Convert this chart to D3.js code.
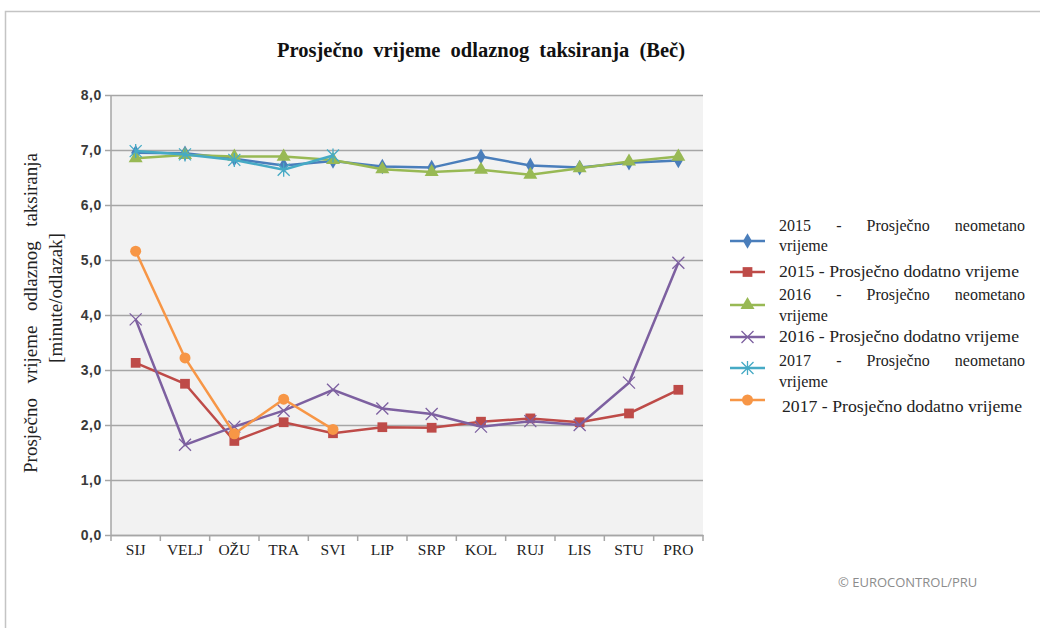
<!DOCTYPE html>
<meta charset="utf-8">
<script src="https://d3js.org/d3.v7.min.js"></script>
<style>
  body { margin: 0; background: #fff; }
  text { font-family: "Liberation Serif", "Times New Roman", serif; }
</style>
<svg id="chart" width="1040" height="628"></svg>
<script>
  // months and series
  var months = ["SIJ", "VELJ", "OŽU", "TRA", "SVI", "LIP", "SRP", "KOL", "RUJ", "LIS", "STU", "PRO"];
  var neo2015 = [6.95, 6.94, 6.84, 6.72, 6.80, 6.70, 6.68, 6.88, 6.72, 6.68, 6.77, 6.81];
  var dod2015 = [3.13, 2.75, 1.71, 2.05, 1.85, 1.96, 1.95, 2.06, 2.12, 2.05, 2.21, 2.64];
  var neo2016 = [6.85, 6.91, 6.88, 6.88, 6.82, 6.65, 6.60, 6.64, 6.55, 6.67, 6.79, 6.88];
  var dod2016 = [3.92, 1.64, 1.97, 2.26, 2.64, 2.30, 2.20, 1.97, 2.07, 2.00, 2.77, 4.95];
  var neo2017 = [6.98, 6.92, 6.82, 6.64, 6.90];
  var dod2017 = [5.16, 3.22, 1.84, 2.47, 1.92];
  var yTicks = [0, 1, 2, 3, 4, 5, 6, 7, 8];
  var seriesNames = [
    ["2015 - Prosječno neometano", "vrijeme"],
    ["2015  - Prosječno dodatno vrijeme"],
    ["2016 - Prosječno neometano", "vrijeme"],
    ["2016 - Prosječno dodatno vrijeme"],
    ["2017 - Prosječno neometano", "vrijeme"],
    ["2017 - Prosječno dodatno vrijeme"]
  ];

  var series = [
    { values: neo2015, color: "#4a7ebb", marker: "diamond" },
    { values: dod2015, color: "#be4b48", marker: "square" },
    { values: neo2016, color: "#98b954", marker: "triangle" },
    { values: dod2016, color: "#7d60a0", marker: "cross" },
    { values: neo2017, color: "#46aac5", marker: "star" },
    { values: dod2017, color: "#f79646", marker: "circle" }
  ];
  series.forEach(function (s, i) { s.name = seriesNames[i]; });

  var svg = d3.select("#chart");

  // outer frame
  svg.append("rect")
    .attr("x", 5.5).attr("y", 11.5)
    .attr("width", 1100).attr("height", 700)
    .attr("fill", "#fff").attr("stroke", "#c4c4c4").attr("stroke-width", 1.5);

  var plotL = 111, plotR = 703, plotT = 95, plotB = 535;

  var x = d3.scaleBand().domain(months).range([plotL, plotR]);
  var y = d3.scaleLinear().domain([0, 8]).range([plotB, plotT]);

  // spread words so a line fills a given width
  function justify(sel, width) {
    var n = sel.text().split(/\s+/).length - 1;
    sel.attr("word-spacing", 0);
    var w = sel.node().getComputedTextLength();
    if (n > 0) sel.attr("word-spacing", (width - w) / n);
  }

  // plot background
  svg.append("rect")
    .attr("x", plotL).attr("y", plotT)
    .attr("width", plotR - plotL).attr("height", plotB - plotT)
    .attr("fill", "#f2f2f2");

  // gridlines + y axis
  var yAxis = d3.axisLeft(y).tickValues(yTicks)
    .tickSize(-(plotR - plotL))
    .tickFormat(function (d) { return d3.format(".1f")(d).replace(".", ","); });
  var gy = svg.append("g").attr("transform", "translate(" + plotL + ",0)").call(yAxis);
  gy.select(".domain").remove();
  gy.selectAll(".tick line").attr("x1", -6).attr("stroke", "#a6a6a6").attr("stroke-width", 1.5);
  gy.selectAll(".tick text")
    .attr("x", -9)
    .style("font-family", "'Liberation Sans', sans-serif")
    .style("font-size", "14px").style("font-weight", "bold")
    .style("letter-spacing", "0.6px")
    .attr("fill", "#3a3a3a");
  svg.append("line")
    .attr("x1", plotL).attr("x2", plotL).attr("y1", plotT).attr("y2", plotB)
    .attr("stroke", "#a6a6a6").attr("stroke-width", 1.5);

  // x axis
  var gx = svg.append("g").attr("transform", "translate(0," + plotB + ")")
    .call(d3.axisBottom(x).tickSize(0).tickPadding(9));
  gx.select(".domain").attr("stroke", "#a6a6a6").attr("stroke-width", 1.5);
  gx.selectAll(".tick text")
    .style("font-family", "'Liberation Serif', serif")
    .style("font-size", "15.5px").attr("fill", "#222");
  gx.selectAll(".bound")
    .data(d3.range(months.length + 1))
    .enter().append("line")
    .attr("x1", function (i) { return plotL + i * x.step(); })
    .attr("x2", function (i) { return plotL + i * x.step(); })
    .attr("y1", 0).attr("y2", 6)
    .attr("stroke", "#a6a6a6").attr("stroke-width", 1.5);

  // markers
  function drawMarker(g, type, color, cx, cy) {
    var size = { diamond: 70, square: 95, triangle: 85, circle: 95 }[type];
    if (type === "cross" || type === "star") {
      var r = 6;
      var p = "M" + (cx - r) + "," + (cy - r) + "L" + (cx + r) + "," + (cy + r) +
        "M" + (cx - r) + "," + (cy + r) + "L" + (cx + r) + "," + (cy - r);
      if (type === "star") p += "M" + cx + "," + (cy - r - 1) + "L" + cx + "," + (cy + r + 1);
      g.append("path").attr("d", p).attr("stroke", color).attr("stroke-width", 1.3).attr("fill", "none");
      return;
    }
    var sym = { diamond: d3.symbolDiamond, square: d3.symbolSquare, triangle: d3.symbolTriangle, circle: d3.symbolCircle }[type];
    g.append("path")
      .attr("d", d3.symbol().type(sym).size(size)())
      .attr("transform", "translate(" + cx + "," + cy + ")")
      .attr("fill", color);
  }

  var line = d3.line()
    .x(function (d, i) { return x(months[i]) + x.bandwidth() / 2; })
    .y(function (d) { return y(d); });

  series.forEach(function (s) {
    var g = svg.append("g");
    g.append("path").datum(s.values)
      .attr("d", line).attr("fill", "none")
      .attr("stroke", s.color).attr("stroke-width", 2.5);
    s.values.forEach(function (v, i) {
      drawMarker(g, s.marker, s.color, x(months[i]) + x.bandwidth() / 2, y(v));
    });
  });

  // title
  var title = svg.append("text")
    .attr("x", 277).attr("y", 57)
    .style("font-size", "20.5px").style("font-weight", "bold")
    .attr("fill", "#111")
    .text("Prosječno vrijeme odlaznog taksiranja (Beč)");
  justify(title, 408);

  // y axis title
  var yt1 = svg.append("text")
    .attr("transform", "translate(37,473) rotate(-90)")
    .style("font-size", "19px").attr("fill", "#222")
    .text("Prosječno vrijeme odlaznog taksiranja");
  justify(yt1, 320);
  svg.append("text")
    .attr("transform", "translate(62,298) rotate(-90)")
    .attr("text-anchor", "middle")
    .style("font-size", "19px").attr("fill", "#222")
    .text("[minute/odlazak]");

  // legend
  var legendLayout = [
    { lines: [231, 251], mark: 241 },
    { lines: [277], mark: 272 },
    { lines: [300, 321], mark: 305 },
    { lines: [342], mark: 337 },
    { lines: [366, 387], mark: 368 },
    { lines: [412], mark: 400 }
  ];
  var lg = svg.append("g");
  series.forEach(function (s, i) {
    var L = legendLayout[i];
    lg.append("line")
      .attr("x1", 730).attr("x2", 765).attr("y1", L.mark).attr("y2", L.mark)
      .attr("stroke", s.color).attr("stroke-width", 2.5);
    drawMarker(lg, s.marker, s.color, 747.5, L.mark);
    s.name.forEach(function (t, j) {
      var tx = lg.append("text")
        .attr("x", i === 5 ? 782 : 779).attr("y", L.lines[j])
        .style("font-size", "16px").attr("fill", "#222")
        .text(t);
      if (s.name.length > 1 && j === 0) justify(tx, 246);
      else if (s.name.length === 1) tx.attr("textLength", 240).attr("lengthAdjust", "spacingAndGlyphs");
    });
  });

  // source
  svg.append("text")
    .attr("x", 838).attr("y", 587)
    .style("font-family", "'Open Sans', sans-serif")
    .style("font-size", "13px").attr("fill", "#8c8c8c")
    .text("© EUROCONTROL/PRU");
</script>
